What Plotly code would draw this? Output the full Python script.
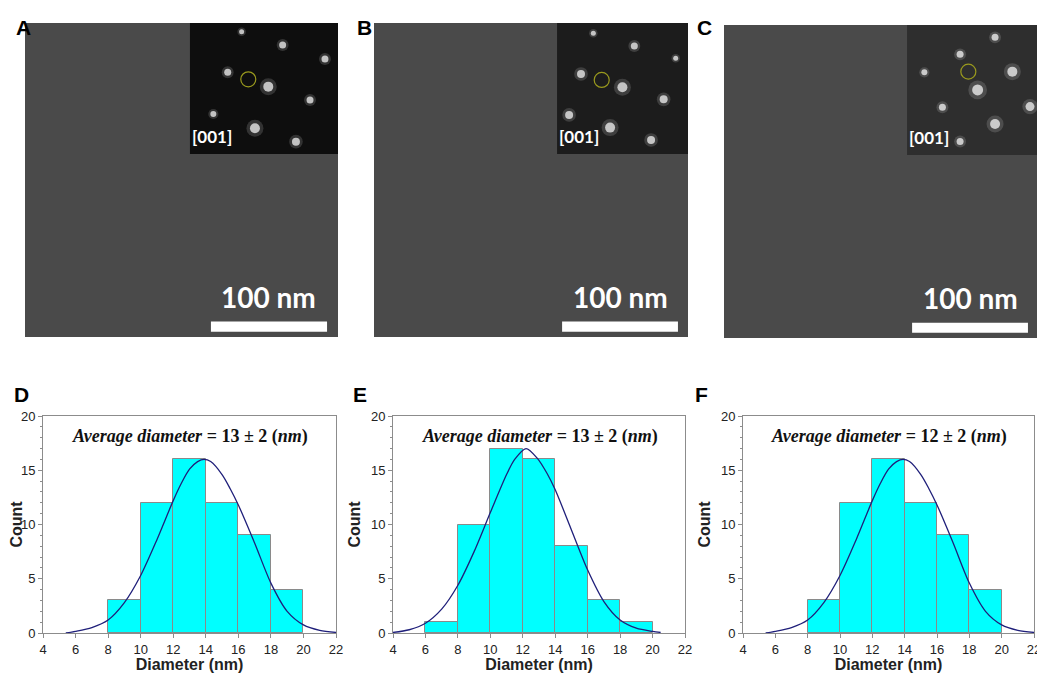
import plotly.graph_objects as go

# histogram data (bin width 2 nm)
bin_d = [9, 11, 13, 15, 17, 19]
count_d = [3, 12, 16, 12, 9, 4]
bin_e = [7, 9, 11, 13, 15, 17, 19]
count_e = [1, 10, 17, 16, 8, 3, 1]
bin_f = [9, 11, 13, 15, 17, 19]
count_f = [3, 12, 16, 12, 9, 4]

# fitted curves
curve_d_x = [5.4, 6, 7, 8, 9, 10, 11, 12, 12.5, 13, 13.5, 13.9, 14.3, 15, 15.5, 16, 17, 18, 19, 20, 21, 22]
curve_d_y = [0.0, 0.15, 0.5, 1.2, 2.8, 5.3, 8.6, 12.2, 13.8, 15.1, 15.8, 16.0, 15.8, 14.6, 13.3, 11.8, 8.3, 4.6, 2.0, 0.75, 0.25, 0.05]
curve_e_x = [4, 5, 6, 7, 8, 9, 10, 11, 11.5, 12.2, 12.9, 13.5, 14, 15, 16, 17, 18, 19, 20, 20.5]
curve_e_y = [0.05, 0.3, 0.9, 2.2, 4.4, 7.5, 11.1, 14.6, 16.0, 17.0, 16.1, 14.7, 13.2, 9.5, 5.8, 2.9, 1.2, 0.45, 0.15, 0.05]
curve_f_x = curve_d_x
curve_f_y = curve_d_y

avg_text = ["13 ± 2", "13 ± 2", "12 ± 2"]
panel_letters = ["A", "B", "C", "D", "E", "F"]

# diffraction spots, relative to the inset (0-1)
spots_a_x = [0.349, 0.626, 0.912, 0.255, 0.529, 0.811, 0.158, 0.439, 0.716]
spots_a_y = [0.066, 0.168, 0.275, 0.376, 0.486, 0.588, 0.695, 0.804, 0.906]
spots_a_s = [5, 7, 7, 7, 10, 7, 6, 10, 8]
spots_b_x = [0.277, 0.590, 0.906, 0.183, 0.499, 0.814, 0.092, 0.405, 0.718]
spots_b_y = [0.079, 0.176, 0.270, 0.389, 0.491, 0.583, 0.702, 0.799, 0.893]
spots_b_s = [5, 7, 5, 8, 10, 8, 8, 10, 8]
spots_c_x = [0.672, 0.405, 0.132, 0.804, 0.539, 0.939, 0.270, 0.672, 0.405]
spots_c_y = [0.095, 0.226, 0.364, 0.359, 0.500, 0.628, 0.633, 0.762, 0.897]
spots_c_s = [7, 7, 6, 10, 11, 9, 7, 10, 7]
circle_x = [0.394, 0.341, 0.468]
circle_y = [0.430, 0.435, 0.359]

# page is 1045x681, the plot div sits 8px in from the body margin
OFF = 8
W, H = 1045 - OFF, 681 - 2 * OFF

def px(x0, x1):
    return [(x0 - OFF) / W, (x1 - OFF) / W]

def py(top, bottom):
    return [1 - (bottom - OFF) / H, 1 - (top - OFF) / H]

fig = go.Figure()

hist_dom = [px(43, 336), px(393, 685), px(743, 1034)]
hist_y = py(416, 633)
img_dom = [(px(25, 338), py(23, 337)), (px(374, 688), py(23, 337)), (px(724, 1038), py(25, 338))]

# ---- image panels (axes 4,5,6) ----
insets = [(0.527, 0.417, "#0e0e0e"), (0.583, 0.417, "#1c1c1c"), (0.583, 0.415, "#2e2e2e")]
spots = [(spots_a_x, spots_a_y, spots_a_s), (spots_b_x, spots_b_y, spots_b_s), (spots_c_x, spots_c_y, spots_c_s)]
bars = [(0.594, 0.965), (0.599, 0.968), (0.599, 0.968)]
shapes = []
annotations = []

for i in range(3):
    n = i + 4
    xa, ya = "x%d" % n, "y%d" % n
    fig.update_layout(**{
        "xaxis%d" % n: dict(domain=img_dom[i][0], range=[0, 1], visible=False, fixedrange=True,
                            automargin=False, anchor=ya),
        "yaxis%d" % n: dict(domain=img_dom[i][1], range=[1, 0], visible=False, fixedrange=True,
                            automargin=False, anchor=xa),
    })
    ix0, ih, icol = insets[i]
    shapes.append(dict(type="rect", xref=xa, yref=ya, x0=0, x1=1, y0=0, y1=1,
                       fillcolor="#4a4a4a", line=dict(width=0), layer="below"))
    shapes.append(dict(type="rect", xref=xa, yref=ya, x0=ix0, x1=1, y0=0, y1=ih,
                       fillcolor=icol, line=dict(width=0), layer="below"))
    sx, sy, ss = spots[i]
    gx = [ix0 + v * (1 - ix0) for v in sx]
    gy = [v * ih for v in sy]
    fig.add_trace(go.Scatter(x=gx, y=gy, mode="markers", xaxis=xa, yaxis=ya,
                             marker=dict(size=[s * 1.7 for s in ss], color="rgba(255,255,255,0.22)", line=dict(width=0)),
                             hoverinfo="skip", showlegend=False))
    fig.add_trace(go.Scatter(x=gx, y=gy, mode="markers", xaxis=xa, yaxis=ya,
                             marker=dict(size=ss, color="white", line=dict(width=0)),
                             hoverinfo="skip", showlegend=False))
    fig.add_trace(go.Scatter(x=[ix0 + circle_x[i] * (1 - ix0)], y=[circle_y[i] * ih], mode="markers",
                             xaxis=xa, yaxis=ya,
                             marker=dict(size=15, symbol="circle-open", color="#9a9a1e", line=dict(width=1.2)),
                             hoverinfo="skip", showlegend=False))
    b0, b1 = bars[i]
    shapes.append(dict(type="rect", xref=xa, yref=ya, x0=b0, x1=b1, y0=0.951, y1=0.983,
                       fillcolor="white", line=dict(width=0)))
    annotations.append(dict(xref=xa, yref=ya, x=(b0 + b1) / 2, y=0.873, text="<b>100 nm</b>",
                            showarrow=False, font=dict(family="Lato", size=28, color="white")))
    annotations.append(dict(xref=xa, yref=ya, x=ix0, y=ih - 0.055, text="<b>[001]</b>", xanchor="left",
                            showarrow=False, font=dict(family="Lato", size=17, color="white")))

# ---- histograms (axes 1,2,3) ----
hist = [(bin_d, count_d, curve_d_x, curve_d_y), (bin_e, count_e, curve_e_x, curve_e_y),
        (bin_f, count_f, curve_f_x, curve_f_y)]
for i in range(3):
    n = i + 1
    sfx = "" if n == 1 else str(n)
    b, c, cx, cy = hist[i]
    fig.add_trace(go.Bar(x=b, y=c, width=2, xaxis="x" + sfx, yaxis="y" + sfx,
                         marker=dict(color="#00ffff", line=dict(color="#8a8a8a", width=1)),
                         showlegend=False))
    fig.add_trace(go.Scatter(x=cx, y=cy, mode="lines", xaxis="x" + sfx, yaxis="y" + sfx,
                             line=dict(color="#1f1f7a", width=1.3, shape="spline", smoothing=0.8),
                             showlegend=False))
    axis_common = dict(showline=True, linecolor="#8c8c8c", linewidth=1, mirror=True, ticks="outside",
                       ticklen=4, tickcolor="#8c8c8c", showgrid=False, zeroline=False, automargin=False,
                       tickfont=dict(family="Liberation Sans", size=13, color="#222"))
    fig.update_layout(**{
        "xaxis" + sfx: dict(axis_common, domain=hist_dom[i], range=[4, 22], dtick=2, tick0=4,
                            anchor="y" + sfx,
                            title=dict(text="<b>Diameter (nm)</b>", standoff=6,
                                       font=dict(family="Liberation Sans", size=16, color="#222"))),
        "yaxis" + sfx: dict(axis_common, domain=hist_y, range=[0, 20], dtick=5, anchor="x" + sfx,
                            minor=dict(dtick=1, ticks="outside", ticklen=2, tickcolor="#8c8c8c"),
                            title=dict(text="<b>Count</b>", standoff=6,
                                       font=dict(family="Liberation Sans", size=16, color="#222"))),
    })
    annotations.append(dict(xref="x" + sfx, yref="y" + sfx, x=13.05, y=18.1, showarrow=False,
                            text="<b><i>Average diameter</i> = %s (<i>nm</i>)</b>" % avg_text[i],
                            font=dict(family="Liberation Serif", size=18, color="#111")))

# panel letters (page pixels)
letter_pos = [(14, 14), (364, 14), (714, 14), (12, 394), (360, 394), (710, 394)]
for t, (lx, ly) in zip(panel_letters, letter_pos):
    annotations.append(dict(xref="paper", yref="paper", x=(lx - OFF) / W, y=1 - (ly - OFF) / H,
                            text="<b>%s</b>" % t, showarrow=False,
                            font=dict(family="Liberation Sans", size=21, color="black")))

fig.update_layout(width=W, height=H, margin=dict(l=0, r=0, t=0, b=0, autoexpand=False),
                  paper_bgcolor="white", plot_bgcolor="white", bargap=0,
                  shapes=shapes, annotations=annotations, showlegend=False)

fig.write_html("out.html")
